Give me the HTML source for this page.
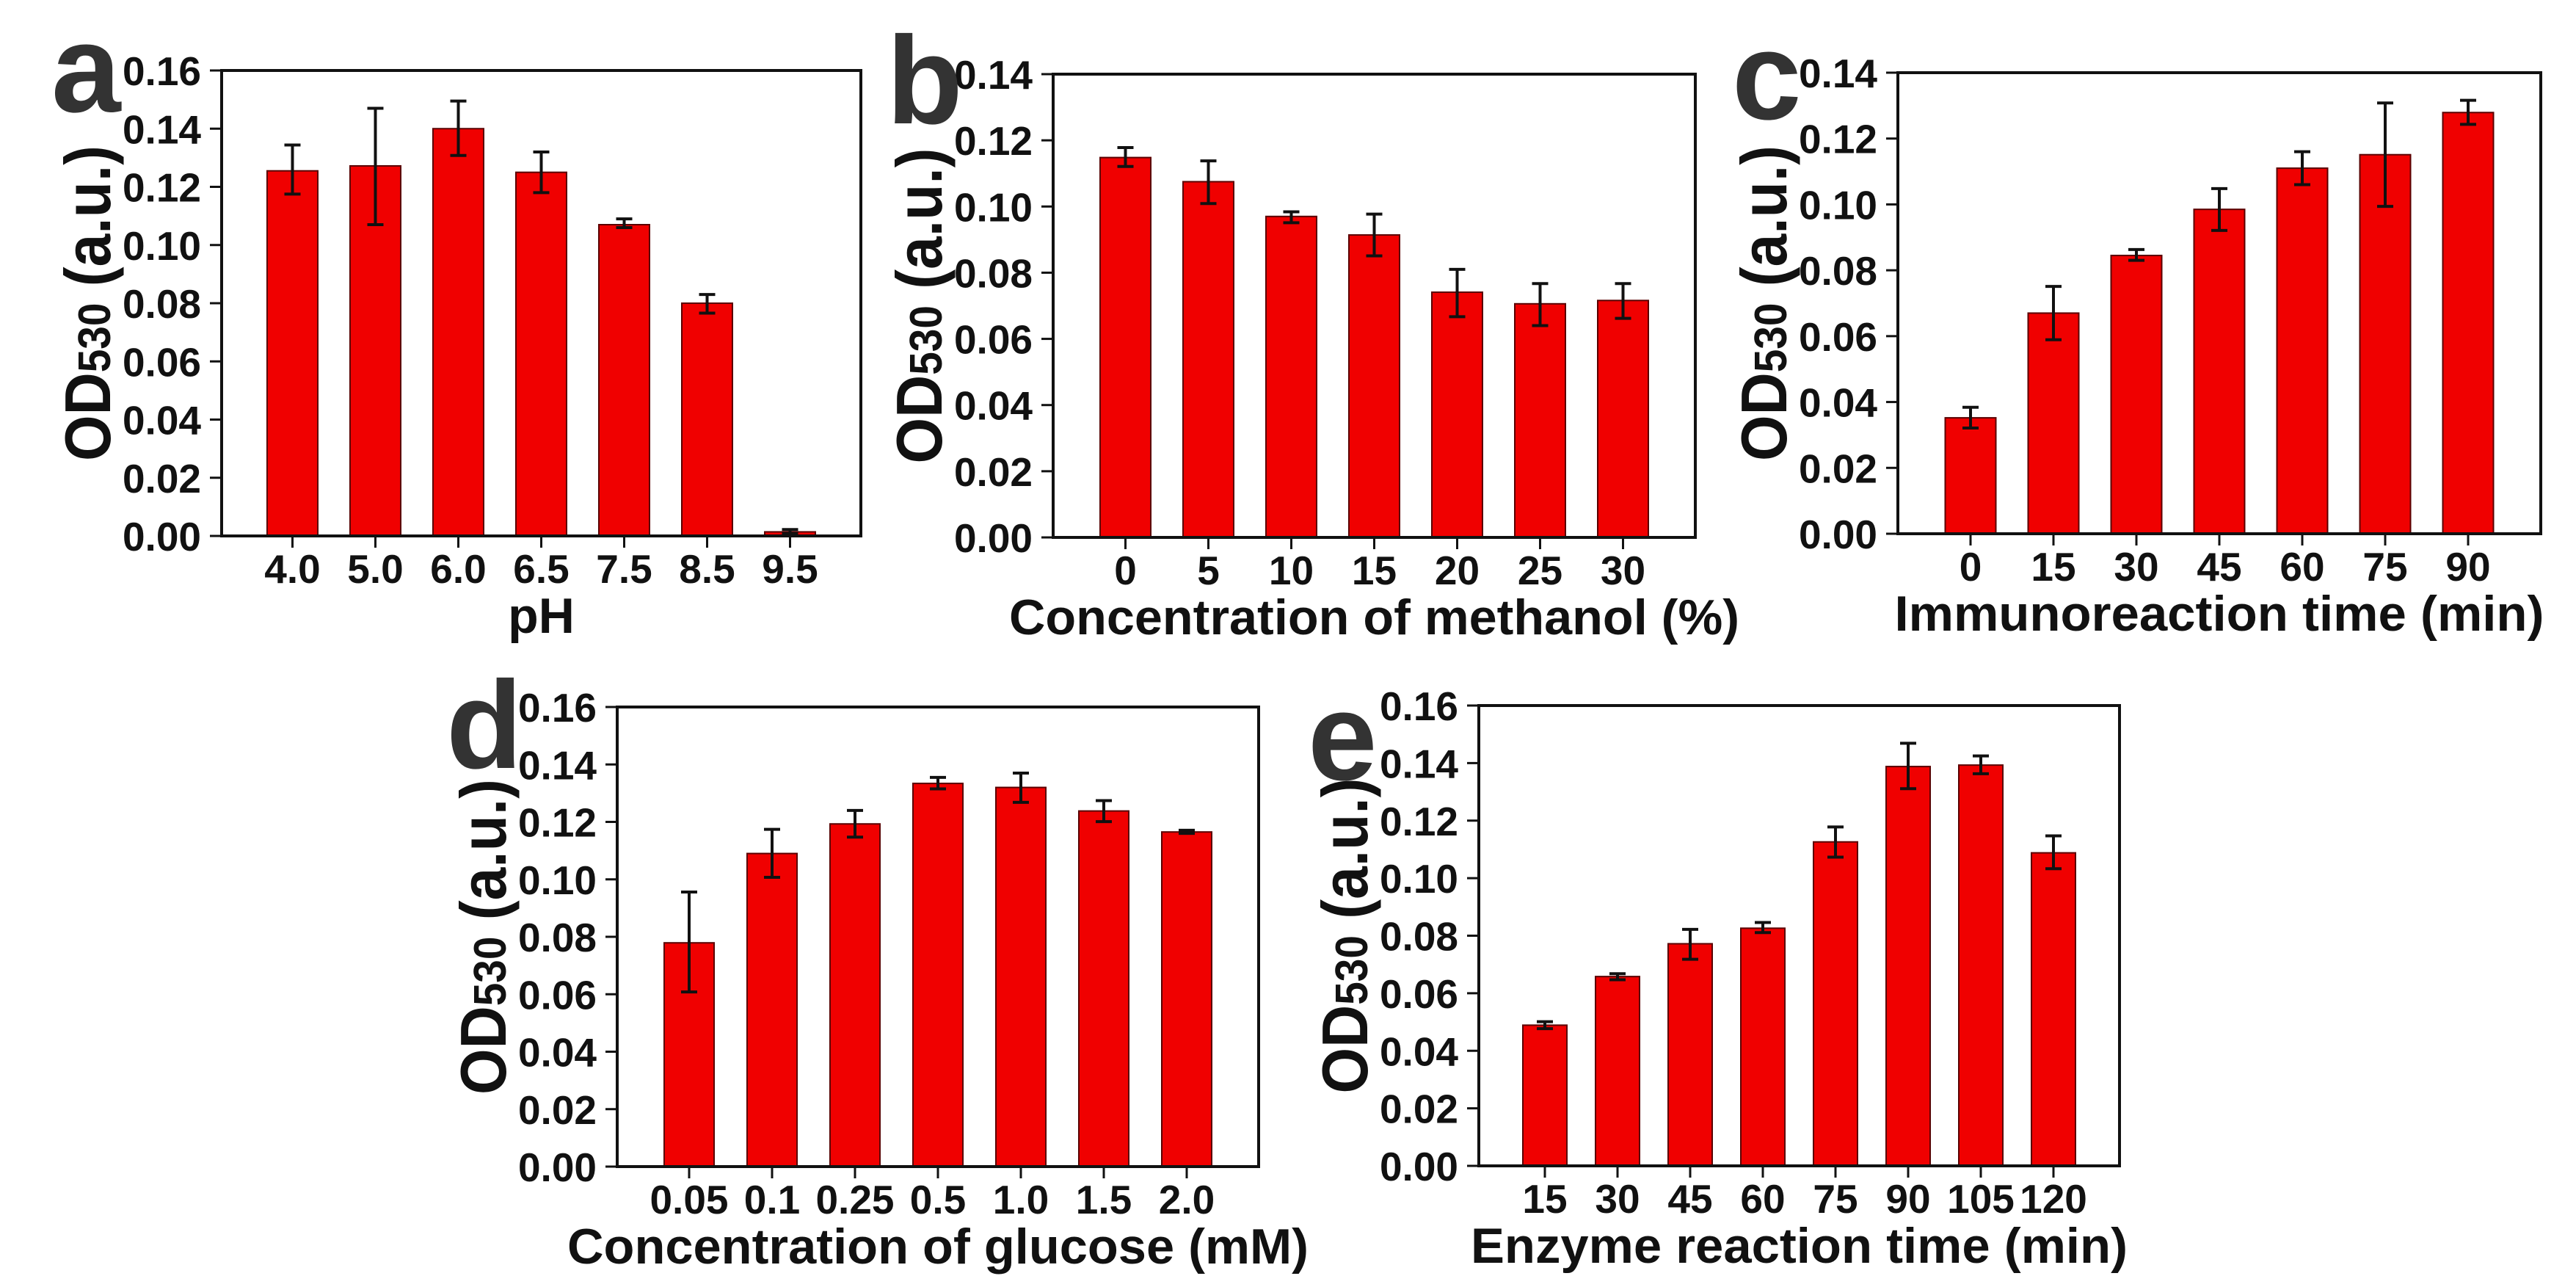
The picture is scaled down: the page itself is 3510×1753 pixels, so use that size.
<!DOCTYPE html>
<html><head><meta charset="utf-8"><style>
html,body{margin:0;padding:0;background:#fff}
svg{display:block}
text{font-family:"Liberation Sans",Arial,sans-serif;font-weight:bold;fill:#111}
</style></head><body>
<svg id="fig" width="3510" height="1753" viewBox="0 0 3510 1753" xmlns="http://www.w3.org/2000/svg"></svg>
<script>
// Panel a
const catsA = ["4.0","5.0","6.0","6.5","7.5","8.5","9.5"];
const valsA = [0.1255,0.1272,0.140,0.125,0.107,0.080,0.0014];
const errHiA = [0.1344,0.147,0.1495,0.132,0.109,0.083,0.0022];
const errLoA = [0.1175,0.107,0.1308,0.118,0.106,0.0766,0.0008];
// Panel b
const catsB = ["0","5","10","15","20","25","30"];
const valsB = [0.1148,0.1075,0.097,0.0914,0.0741,0.0706,0.0716];
const errHiB = [0.1178,0.1138,0.0984,0.0977,0.081,0.0767,0.0767];
const errLoB = [0.1121,0.1009,0.0951,0.0851,0.0667,0.064,0.0662];
// Panel c
const catsC = ["0","15","30","45","60","75","90"];
const valsC = [0.0352,0.067,0.0845,0.0985,0.111,0.1151,0.1279];
const errHiC = [0.0384,0.0751,0.0863,0.1048,0.116,0.1308,0.1316];
const errLoC = [0.0321,0.0589,0.083,0.0921,0.106,0.0994,0.1243];
// Panel d
const catsD = ["0.05","0.1","0.25","0.5","1.0","1.5","2.0"];
const valsD = [0.0779,0.109,0.1193,0.1334,0.132,0.1238,0.1165];
const errHiD = [0.0956,0.1174,0.124,0.1355,0.137,0.1274,0.1171];
const errLoD = [0.0608,0.1007,0.1147,0.1315,0.1268,0.1201,0.116];
// Panel e
const catsE = ["15","30","45","60","75","90","105","120"];
const valsE = [0.0489,0.0658,0.0772,0.0826,0.1126,0.1388,0.1393,0.1088];
const errHiE = [0.0501,0.0668,0.0822,0.0846,0.1178,0.1469,0.1425,0.1147];
const errLoE = [0.0477,0.0647,0.0718,0.0811,0.1073,0.1311,0.1363,0.1033];
// Tick labels
const ticks016 = ["0.00","0.02","0.04","0.06","0.08","0.10","0.12","0.14","0.16"];
const ticks014 = ["0.00","0.02","0.04","0.06","0.08","0.10","0.12","0.14"];

const NS="http://www.w3.org/2000/svg";
const svg=document.getElementById('fig');
function mk(tag,attrs,parent){const e=document.createElementNS(NS,tag);for(const k in attrs)e.setAttribute(k,attrs[k]);(parent||svg).appendChild(e);return e;}

function panel(id,letter,box,cats,vals,hi,lo,ticks,ymax,spacing,barW,xtitle,xtitleLen,letterPos){
  const g=mk('g',{});
  
  
  const [L,T,R,B]=box;
  const y=v=>B-(v/ymax)*(B-T);
  const cx=(R+L)/2;
  const n=cats.length;
  const x=i=>cx+(i-(n-1)/2)*spacing;
  for(let i=0;i<n;i++){
    const r=mk('rect',{x:x(i)-barW/2,y:y(vals[i]),width:barW,height:B-y(vals[i]),fill:'#f00000',stroke:'#5a0000','stroke-width':2},g);
    
    
    const eb=mk('path',{d:`M${x(i)},${y(hi[i])}V${y(lo[i])}M${x(i)-11},${y(hi[i])}H${x(i)+11}M${x(i)-11},${y(lo[i])}H${x(i)+11}`,stroke:'#111','stroke-width':4,fill:'none'},g);
    
    
    const tk=mk('line',{x1:x(i),x2:x(i),y1:B,y2:B+16,stroke:'#111','stroke-width':3},g);
    
    
    const tl=mk('text',{x:x(i),y:B+64,'font-size':55,'text-anchor':'middle'},g);
    tl.textContent=cats[i];
    
    
  }
  for(let j=0;j<ticks.length;j++){
    const v=j*0.02, yy=y(v);
    const tk=mk('line',{x1:L-16,x2:L,y1:yy,y2:yy,stroke:'#111','stroke-width':3},g);
    
    
    const tl=mk('text',{x:L-28,y:yy+20,'font-size':55,'text-anchor':'end'},g);
    tl.textContent=ticks[j];
    
    
  }
  const fr=mk('rect',{x:L,y:T,width:R-L,height:B-T,fill:'none',stroke:'#111','stroke-width':4},g);
  
  
  const xt=mk('text',{x:(L+R)/2,y:B+132,'font-size':68,'text-anchor':'middle'},g);
  if(xtitleLen){xt.setAttribute('textLength',xtitleLen);xt.setAttribute('lengthAdjust','spacingAndGlyphs');}
  xt.textContent=xtitle;
  
  
  const yc=(T+B)/2, yx=L-152;
  const yt=mk('text',{x:0,y:0,'font-size':88,'text-anchor':'middle',transform:`translate(${yx},${yc}) rotate(-90)`,textLength:430,lengthAdjust:'spacingAndGlyphs'},g);
  yt.innerHTML='OD<tspan font-size="62">530</tspan> (a.u.)';
  
  
  const lt=mk('text',{x:letterPos[0],y:letterPos[1],'font-size':170},g);
  lt.setAttribute('style','fill:#333');
  lt.textContent=letter;
  
  
}

panel('a','a',[302,96,1173,730],catsA,valsA,errHiA,errLoA,ticks016,0.16,113,69,'pH',0,[70,152]);
panel('b','b',[1435,101,2310,732],catsB,valsB,errHiB,errLoB,ticks014,0.14,113,69,'Concentration of methanol (%)',995,[1208,168]);
panel('c','c',[2586,99,3462,727],catsC,valsC,errHiC,errLoC,ticks014,0.14,113,69,'Immunoreaction time (min)',885,[2360,162]);
panel('d','d',[841,963,1715,1589],catsD,valsD,errHiD,errLoD,ticks016,0.16,113,68,'Concentration of glucose (mM)',1010,[608,1046]);
panel('e','e',[2015,961,2888,1588],catsE,valsE,errHiE,errLoE,ticks016,0.16,99,60,'Enzyme reaction time (min)',895,[1782,1062]);
</script>
</body></html>
